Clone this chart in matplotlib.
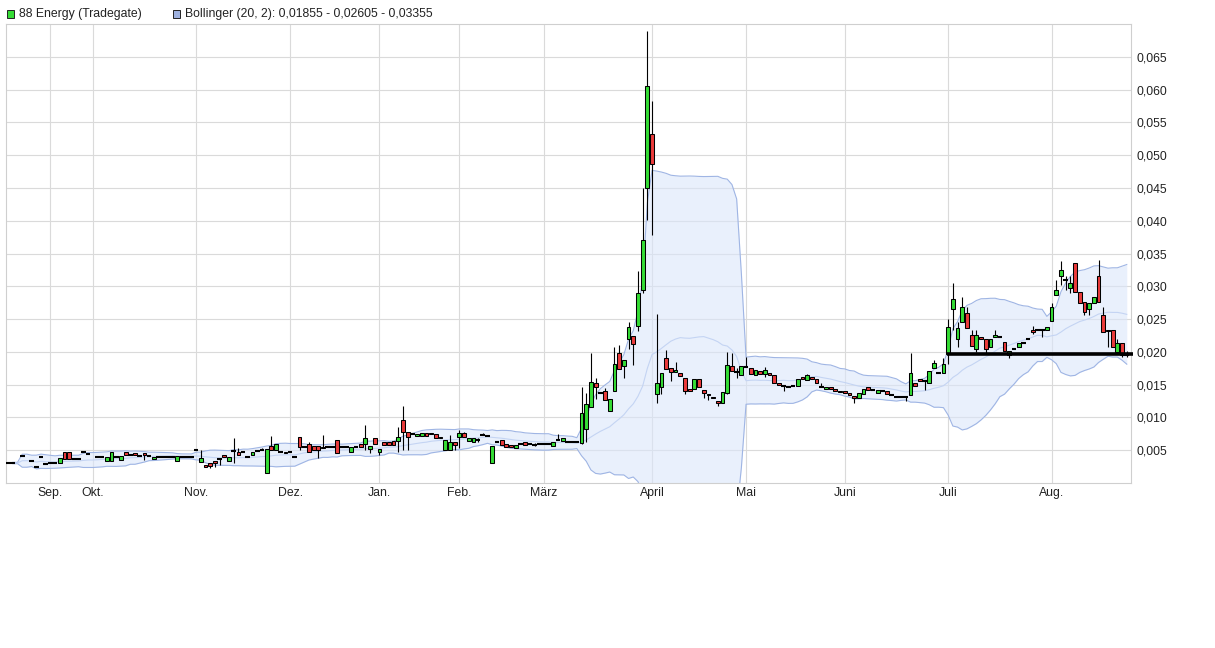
import numpy as np
import pandas as pd
import matplotlib
matplotlib.use("Agg")
import matplotlib.pyplot as plt
from matplotlib.patches import Rectangle

plt.rcParams['font.family'] = ['Liberation Sans', 'DejaVu Sans']

# prices in 1/1000 EUR
# number = day without range (O=H=L=C), None = no trade, tuple = (open, high, low, close)
pre_sep = [3.1, 3.0, None, 4.1, None, 3.3, 2.5, 3.9, 2.9]
sep = [3.0, 3.0, (3.1, 3.8, 3.1, 3.8), (4.7, 4.7, 3.6, 3.6), (4.7, 4.7, 3.6, 3.6),
       3.6, 3.6, 4.7, 4.4]
okt = [None, 4.0, 4.0, (3.3, 4.0, 3.3, 4.0), (3.3, 4.7, 3.3, 4.7), 3.9,
       (3.5, 4.1, 3.5, 4.1), (4.7, 4.7, 4.2, 4.2), 4.2, (4.5, 4.5, 4.2, 4.2), 4.1,
       (4.5, 4.5, 3.5, 4.2), 4.1, (3.6, 4.0, 3.6, 4.0), 3.9, 3.9, 3.9, 3.9,
       (3.3, 4.1, 3.3, 4.1), 3.9, 3.9, 3.9]
nov = [5.1, (3.2, 5.0, 3.2, 3.8), (2.7, 2.7, 2.4, 2.4), (3.0, 3.0, 2.3, 2.6),
       (3.3, 3.3, 2.5, 3.0), (3.7, 3.7, 2.8, 3.7), (4.2, 4.2, 3.9, 3.9),
       (3.3, 3.9, 3.3, 3.9), (4.9, 6.8, 3.0, 4.9), (4.7, 5.4, 4.2, 4.2), 4.8, 3.9,
       (4.2, 4.7, 4.2, 4.7), 4.9, (5.0, 5.3, 5.0, 5.0), (1.6, 5.2, 1.6, 5.2),
       (5.6, 7.2, 5.0, 5.0), (5.0, 5.9, 5.0, 5.9), 4.7, (4.8, 4.8, 4.5, 4.5)]
dez = [4.7, 4.0, (7.0, 7.0, 5.0, 5.5), 5.5, (5.9, 6.2, 4.7, 4.7), (5.7, 5.7, 5.0, 5.0),
       (5.7, 5.7, 3.8, 5.0), (5.5, 7.3, 5.3, 5.3), 5.5, 5.5, (6.5, 6.5, 4.6, 4.6),
       5.5, 5.5, (4.7, 5.5, 4.7, 5.5), 5.5, (5.9, 5.9, 5.5, 5.5), (5.9, 8.8, 5.0, 6.8),
       (5.2, 5.6, 4.5, 5.6), (6.8, 6.8, 5.9, 5.9)]
jan = [(4.8, 5.2, 4.2, 5.2), (6.2, 6.2, 5.8, 5.8), (6.2, 6.2, 5.8, 5.8),
       (6.4, 6.4, 5.8, 5.8), (6.4, 8.6, 4.7, 7.0), (9.6, 11.8, 5.0, 7.8),
       (7.8, 7.8, 5.0, 7.0), 7.5, (7.1, 7.5, 7.1, 7.5), (7.2, 7.7, 7.2, 7.7),
       (7.7, 7.7, 7.1, 7.1), (7.7, 7.7, 7.4, 7.4), (7.5, 7.5, 6.9, 6.9),
       (7.0, 7.0, 6.8, 6.8), (5.0, 6.5, 5.0, 6.5), (5.0, 7.3, 5.0, 6.3),
       (6.2, 6.2, 5.0, 5.8)]
feb = [(7.0, 8.1, 5.3, 7.6), (7.6, 7.8, 7.0, 7.0), (6.4, 6.8, 6.4, 6.8),
       (6.3, 6.8, 6.3, 6.8), (6.6, 6.9, 6.3, 6.6), (7.3, 7.6, 7.3, 7.3), 7.2,
       (3.0, 5.7, 3.0, 5.7), 6.3, (6.5, 6.5, 5.8, 5.8), (6.0, 6.0, 5.5, 5.5),
       (5.8, 5.8, 5.5, 5.5), (5.4, 5.8, 5.4, 5.8), 5.9, (6.2, 6.2, 5.8, 5.8), 6.0,
       (5.8, 6.1, 5.6, 5.8), 6.0]
maerz = [6.0, 5.9, (5.6, 6.3, 5.6, 6.3), (6.6, 7.4, 6.6, 6.6), (6.4, 6.8, 6.4, 6.8),
         6.3, 6.2, 6.2, (6.1, 14.6, 6.0, 10.6), (8.2, 13.7, 6.3, 12.0),
         (11.6, 19.8, 11.6, 15.4), (15.3, 16.0, 12.8, 14.7), 13.7,
         (14.1, 14.5, 12.6, 12.6), (11.0, 12.8, 11.0, 12.8), (14.1, 20.7, 14.1, 18.1),
         (19.9, 21.0, 17.4, 17.4), (17.8, 18.7, 16.0, 18.7), (21.9, 24.6, 20.5, 23.8),
         (22.4, 22.4, 18.0, 21.2), (23.9, 32.3, 23.2, 29.0), (29.4, 45.0, 29.0, 37.1),
         (45.0, 68.9, 40.1, 60.5)]
april = [(53.2, 58.3, 37.8, 48.6), (13.5, 25.7, 12.2, 15.2), (14.6, 16.8, 13.6, 16.8),
         (19.0, 20.3, 17.4, 17.4), (17.6, 17.6, 15.6, 16.9), (17.0, 18.5, 17.0, 17.2),
         (16.8, 16.8, 16.3, 16.3), (16.0, 16.0, 13.5, 14.0), (14.3, 14.3, 14.1, 14.1),
         (14.3, 15.8, 14.3, 15.8), (15.8, 15.8, 14.7, 14.7), (14.2, 14.2, 13.0, 13.7),
         (13.6, 13.6, 12.7, 13.4), (13.1, 13.1, 12.9, 12.9), (12.5, 12.5, 11.8, 12.2),
         (12.2, 13.9, 12.2, 13.9), (13.7, 20.0, 13.5, 18.0), (17.9, 19.9, 17.1, 17.1),
         (16.9, 17.5, 16.0, 16.9), (16.4, 17.8, 16.4, 17.8)]
mai = [(17.7, 19.2, 17.7, 17.7), (17.5, 17.5, 16.6, 16.6), (16.5, 17.3, 16.5, 17.3),
       (17.1, 17.1, 16.6, 16.6), (16.6, 17.7, 16.1, 17.2), (16.7, 16.7, 16.4, 16.4),
       (16.4, 16.4, 15.3, 15.3), (15.3, 15.3, 14.9, 14.9), (14.8, 14.8, 14.0, 14.8),
       14.7, 14.8, (14.8, 15.9, 14.8, 15.9), (16.1, 16.1, 15.8, 15.8),
       (15.7, 16.6, 15.7, 16.4), (16.1, 16.1, 15.8, 15.8), (15.9, 15.9, 15.3, 15.3),
       (14.7, 15.2, 14.7, 14.7), (14.3, 14.7, 14.3, 14.7), (14.6, 14.6, 14.3, 14.3),
       (14.3, 14.3, 14.0, 14.0), (14.1, 14.1, 13.9, 13.9)]
juni = [(14.0, 14.0, 13.7, 13.7), (13.7, 13.7, 13.4, 13.4), (13.2, 13.2, 12.2, 12.9),
        (12.9, 13.7, 12.9, 13.7), (13.5, 14.3, 13.5, 14.3), (14.7, 14.7, 14.2, 14.2),
        14.2, (13.7, 14.2, 13.7, 14.2), 14.0, (14.0, 14.0, 13.6, 13.6), 13.4, 13.1,
        13.1, (13.1, 13.1, 12.5, 13.1), (13.4, 19.8, 13.4, 16.7),
        (15.3, 15.3, 14.8, 14.8), (15.9, 15.9, 15.6, 15.6), (15.6, 15.6, 14.2, 15.6),
        (15.2, 17.1, 15.2, 17.1), (17.5, 18.8, 17.5, 18.3), 16.8,
        (16.8, 19.0, 16.8, 18.1)]
juli = [(19.7, 25.0, 18.1, 23.8), (26.5, 30.5, 23.3, 28.1), (21.9, 24.5, 20.8, 23.6),
        (24.5, 28.4, 24.5, 26.8), (25.9, 26.8, 23.7, 23.7), (22.6, 23.3, 20.9, 20.9),
        (20.5, 23.3, 20.0, 22.6), (22.2, 22.2, 22.0, 22.0), (21.9, 21.9, 19.8, 20.4),
        (20.7, 21.9, 20.7, 21.9), (22.2, 23.3, 22.2, 22.6), 22.2,
        (21.5, 21.5, 20.2, 20.2), (19.5, 20.2, 19.0, 20.2), 20.5,
        (20.7, 21.4, 20.7, 21.4), 21.4, 21.9, (23.4, 23.9, 22.7, 23.0), 23.3,
        (23.4, 23.4, 22.2, 23.4), (23.3, 23.8, 23.3, 23.8)]
aug = [(24.7, 27.5, 24.7, 26.8), (28.6, 31.0, 28.6, 29.4), (31.6, 33.8, 30.2, 32.5),
       (31.0, 31.6, 29.4, 31.0), (29.8, 31.5, 28.9, 30.5), (33.5, 33.5, 29.2, 29.2),
       (29.2, 29.2, 27.4, 27.4), (27.6, 27.6, 25.6, 26.1), (26.5, 27.5, 25.6, 27.5),
       (27.5, 28.4, 27.5, 28.4), (31.5, 34.0, 27.6, 27.6), (25.6, 26.8, 23.1, 23.1),
       (23.3, 23.3, 20.8, 23.2), (23.3, 23.3, 20.8, 20.8), (20.0, 22.0, 20.0, 21.4),
       (21.4, 21.4, 19.2, 19.5), (19.5, 20.2, 19.2, 19.5)]

months = ["Sep.", "Okt.", "Nov.", "Dez.", "Jan.", "Feb.", "März", "April",
          "Mai", "Juni", "Juli", "Aug."]
month_data = [sep, okt, nov, dez, jan, feb, maerz, april, mai, juni, juli, aug]

support_level = 0.0196
legend_stock = "88 Energy (Tradegate)"
legend_boll = "Bollinger (20, 2): 0,01855 - 0,02605 - 0,03355"

# ---- assemble OHLC
candles = list(pre_sep)
month_first = []
for m in month_data:
    month_first.append(len(candles))
    candles += m

n = len(candles)
o = np.full(n, np.nan); h = np.full(n, np.nan)
l = np.full(n, np.nan); c = np.full(n, np.nan)
for i, k in enumerate(candles):
    if k is None:
        continue
    if isinstance(k, tuple):
        o[i], h[i], l[i], c[i] = k
    else:
        o[i] = h[i] = l[i] = c[i] = k
o, h, l, c = o / 1000, h / 1000, l / 1000, c / 1000
x = np.arange(n)

close = pd.Series(c)
mid = close.rolling(20, min_periods=2).mean()
sd = close.rolling(20, min_periods=2).std(ddof=0)
upper = mid + 2 * sd
lower = mid - 2 * sd

# ---- figure
W, H = 1215, 648
fig = plt.figure(figsize=(W / 100, H / 100), dpi=100)
ax = fig.add_axes([6 / W, 1 - 483 / H, 1125 / W, 459 / H])

ax.fill_between(x, lower, upper, color='#dbe6fa', alpha=0.6, lw=0, zorder=1)
ax.plot(x, upper, color='#9fb5e4', lw=0.8, zorder=2)
ax.plot(x, lower, color='#9fb5e4', lw=0.8, zorder=2)
ax.plot(x, mid, color='#c4d4f3', lw=0.8, zorder=2)

green, red = '#35dc35', '#ea3b3b'
ok = ~np.isnan(c)
wick = ok & (h > l)
ax.vlines(x[wick], l[wick], h[wick], color='black', lw=0.8, zorder=3)
up = ok & (c > o)
dn = ok & (c < o)
flat = ok & (c == o)
bw = 0.8
ax.bar(x[up], c[up] - o[up], bottom=o[up], width=bw, color=green,
       edgecolor='black', lw=0.75, zorder=4)
ax.bar(x[dn], o[dn] - c[dn], bottom=c[dn], width=bw, color=red,
       edgecolor='black', lw=0.75, zorder=4)
ax.hlines(c[flat], x[flat] - 0.5, x[flat] + 0.5, color='black', lw=1.5, zorder=4)

# support line from July on
ax.hlines(support_level, month_first[10] - 0.3, n + 0.4, color='black', lw=2.6,
          zorder=5, clip_on=False)

ax.set_xlim(-0.45, n - 0.1)
ax.set_ylim(0, 0.070)
yt = np.arange(1, 14) * 0.005
ax.set_yticks(yt)
ax.set_yticklabels([f"{v:.3f}".replace('.', ',') for v in yt])
ax.set_xticks(month_first)
ax.set_xticklabels(months)
ax.yaxis.tick_right()
ax.tick_params(length=0, labelsize=8.8, colors='#222222')
ax.tick_params(axis='y', pad=4)
ax.tick_params(axis='x', pad=3)
ax.grid(True, color='#dadada', lw=0.8)
ax.set_axisbelow(True)
for s in ax.spines.values():
    s.set_color('#cfcfcf')
    s.set_linewidth(0.8)

# legend above plot
def fx(px):
    return px / W

def fy(py):
    return 1 - py / H

for px, col, txt in [(6.5, green, legend_stock), (172.5, '#9fb2e0', legend_boll)]:
    fig.add_artist(Rectangle((fx(px), fy(17.5)), 7 / W, 7 / H, facecolor=col,
                             edgecolor='#222222', lw=0.7, transform=fig.transFigure))
    fig.text(fx(px + 12.5), fy(14), txt, fontsize=8.8, va='center', ha='left',
             color='#222222')

fig.savefig("out.png", dpi=100)
